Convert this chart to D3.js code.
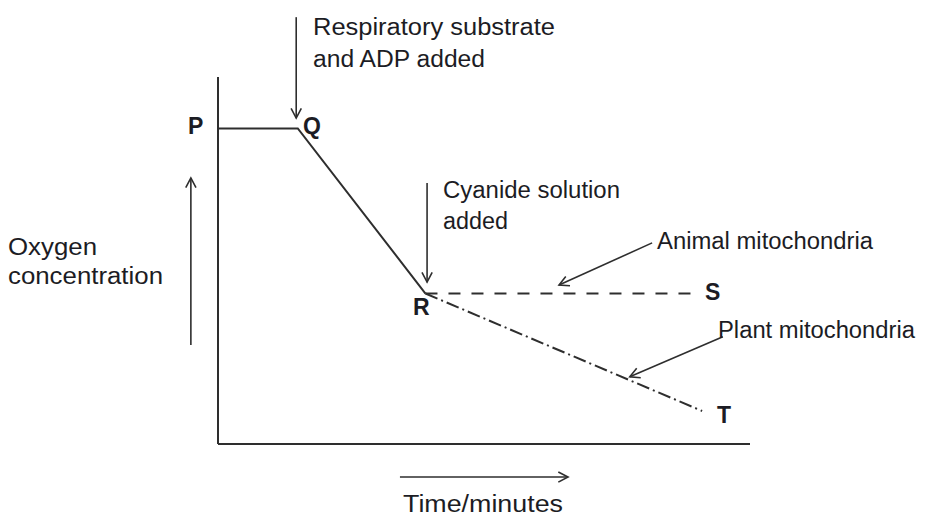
<!DOCTYPE html>
<html>
<head>
<meta charset="utf-8">
<script src="https://cdn.jsdelivr.net/npm/d3@7/dist/d3.min.js"></script>
<style>
  html, body { margin: 0; padding: 0; background: #ffffff; }
  svg { display: block; }
  text { font-family: "Liberation Sans", Arial, sans-serif; fill: #1c1c24; }
</style>
</head>
<body>
<svg id="chart" width="946" height="516"></svg>
<script>
// ---- data (schematic units: time 0-100, oxygen 0-100) ----
const mainTime   = [0, 15, 39];
const mainOxygen = [86, 86, 41];
const animalTime   = [39, 89];
const animalOxygen = [41, 41];
const plantTime   = [39, 91];
const plantOxygen = [41, 9];
const pointLabels = ["P", "Q", "R", "S", "T"];
const xAxisLabel = "Time / minutes";
const yAxisLabel = ["Oxygen", "concentration"];

// ---- layout ----
const W = 946, H = 516;
const x = d3.scaleLinear().domain([0, 100]).range([218, 750]);
const y = d3.scaleLinear().domain([0, 100]).range([444, 77]);
const svg = d3.select("#chart");
const ink = "#2e2e2e";

// axes (plain lines, no ticks)
svg.append("line").attr("x1", x(0)).attr("x2", x(0)).attr("y1", y(0)).attr("y2", y(100))
  .attr("stroke", ink).attr("stroke-width", 2);
svg.append("line").attr("x1", x(0)).attr("x2", x(100)).attr("y1", y(0)).attr("y2", y(0))
  .attr("stroke", ink).attr("stroke-width", 2);

const line = d3.line().x(d => x(d[0])).y(d => y(d[1]));
const zip = (a, b) => a.map((v, i) => [v, b[i]]);

svg.append("path").datum(zip(mainTime, mainOxygen)).attr("d", line)
  .attr("fill", "none").attr("stroke", ink).attr("stroke-width", 2).attr("stroke-linejoin", "miter");
svg.append("path").datum(zip(animalTime, animalOxygen)).attr("d", line)
  .attr("fill", "none").attr("stroke", ink).attr("stroke-width", 2).attr("stroke-dasharray", "12,11");
svg.append("path").datum(zip(plantTime, plantOxygen)).attr("d", line)
  .attr("fill", "none").attr("stroke", ink).attr("stroke-width", 2).attr("stroke-dasharray", "13,4,2,4");

// annotation arrows (in data units; y-axis / time arrows sit outside the plot)
const arrows = [
  { from: [14.7, 116.3], to: [14.7, 88.8] },   // respiratory substrate
  { from: [39.3, 71.1],  to: [39.3, 44.1] },   // cyanide
  { from: [81.6, 54.8],  to: [64.1, 43.3] },   // animal
  { from: [94.9, 29.2],  to: [77.4, 18.3] },   // plant
  { from: [-5.1, 27.0],  to: [-5.1, 72.5] },   // oxygen axis arrow
  { from: [34.2, -9.0],  to: [65.8, -9.0] }    // time axis arrow
];
arrows.forEach(a => {
  const x1 = x(a.from[0]), y1 = y(a.from[1]), x2 = x(a.to[0]), y2 = y(a.to[1]);
  svg.append("line").attr("x1", x1).attr("y1", y1).attr("x2", x2).attr("y2", y2)
    .attr("stroke", ink).attr("stroke-width", 1.6);
  const ang = Math.atan2(y2 - y1, x2 - x1);
  const L = 11, sp = Math.PI / 6.5;
  const p1 = [x2 - L * Math.cos(ang - sp), y2 - L * Math.sin(ang - sp)];
  const p2 = [x2 - L * Math.cos(ang + sp), y2 - L * Math.sin(ang + sp)];
  svg.append("path").attr("d", `M${p1[0]},${p1[1]}L${x2},${y2}L${p2[0]},${p2[1]}`)
    .attr("fill", "none").attr("stroke", ink).attr("stroke-width", 1.6);
});

// text labels
const texts = [
  { t: "Respiratory substrate", x: 313, y: 35, w: 242 },
  { t: "and ADP added",         x: 313, y: 67, w: 172 },
  { t: "Cyanide solution",      x: 443, y: 198, w: 177 },
  { t: "added",                 x: 443, y: 229, w: 65 },
  { t: "Animal mitochondria",   x: 657, y: 249, w: 216 },
  { t: "Plant mitochondria",    x: 718, y: 338, w: 197 },
  { t: yAxisLabel[0],           x: 8,   y: 255, w: 89 },
  { t: yAxisLabel[1],           x: 8,   y: 284, w: 155 },
  { t: xAxisLabel.replace(" / ", "/"), x: 403, y: 512, w: 160 }
];
texts.forEach(d => {
  svg.append("text").attr("x", d.x).attr("y", d.y).text(d.t)
    .attr("font-size", 23).attr("textLength", d.w).attr("lengthAdjust", "spacingAndGlyphs");
});

const letterPos = [
  { x: 188, y: 134 }, { x: 303, y: 134 }, { x: 413, y: 315 }, { x: 705, y: 300 }, { x: 717, y: 423 }
];
pointLabels.forEach((l, i) => {
  svg.append("text").attr("x", letterPos[i].x).attr("y", letterPos[i].y).text(l)
    .attr("font-size", 23).attr("font-weight", "bold");
});
</script>
</body>
</html>
